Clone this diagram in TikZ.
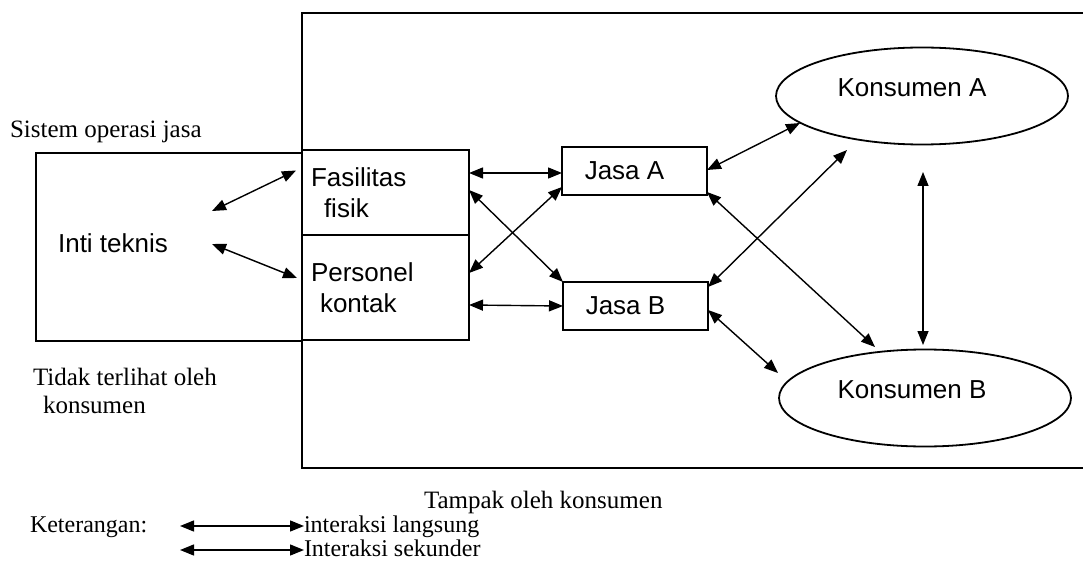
\documentclass[tikz,border=0pt]{standalone}
\usepackage{fontspec}
\setmainfont{Liberation Serif}
\setsansfont{Liberation Sans}
\usetikzlibrary{arrows.meta,calc,shapes.geometric}
\begin{document}
\begin{tikzpicture}[x=1pt,y=-1pt,
  every node/.style={inner sep=0pt, outer sep=0pt},
  ln/.style={line width=1.8pt},
  arr/.style={line width=1.4pt, {Triangle[length=14pt,width=11pt]}-{Triangle[length=14pt,width=11pt]}},
  sans/.style={font=\sffamily\fontsize{26}{31}\selectfont},
  serif/.style={font=\rmfamily\fontsize{25}{28}\selectfont},
  legf/.style={font=\rmfamily\fontsize{24}{26}\selectfont, anchor=base west},
  boxl/.style={draw, ln, sans, anchor=north west, inner xsep=9pt, text width=149pt, align=left, minimum width=167pt},
  jbox/.style={draw, ln, sans, anchor=north west, minimum width=145pt, minimum height=48pt},
  kons/.style={draw, ln, ellipse, minimum width=292pt, minimum height=97pt}
]
\useasboundingbox (0,0) rectangle (1083,577);

% frames
\draw[ln] (1084,13) -- (302,13) -- (302,468) -- (1084,468);
\node[draw, ln, anchor=north west, minimum width=266pt, minimum height=188pt] (sys) at (36,153) {};
\node[boxl, minimum height=85pt] (fas) at (302,150) {Fasilitas\\\hspace*{13pt}fisik};
\node[boxl, minimum height=105pt] (pers) at (302,235) {Personel\\\hspace*{9pt}kontak};

\node[sans] (inti) at (113,243) {Inti teknis};
\node[serif, anchor=base west] (sistem) at (10,138) {Sistem operasi jasa};
\node[serif, anchor=base west] (tid1) at (33,385) {Tidak terlihat oleh};
\node[serif, anchor=base west] (tid2) at (43,413) {konsumen};

\node[jbox] (ja) at (562,147) {Jasa A\hspace*{20pt}};
\node[jbox] (jb) at (563,282) {Jasa B\hspace*{20pt}};

\node[kons] (ka) at (922,96) {};
\node[sans] (kat) at ($(ka)+(-10,-8)$) {Konsumen A};
\node[kons] (kb) at (925,398) {};
\node[sans] (kbt) at ($(kb)+(-13,-8)$) {Konsumen B};

\coordinate (i1) at (212,211);
\coordinate (i2) at (212,244);

% connectors
\draw[arr] (i1) -- ([xshift=-6pt,yshift=22pt]fas.west);
\draw[arr] (i2) -- ([xshift=-5pt,yshift=9.5pt]pers.west);
\draw[arr] ([yshift=19.5pt]fas.east) -- ([yshift=-2pt]ja.west);
\draw[arr] ([yshift=2.5pt]fas.east) -- (jb.north west);
\draw[arr] ([yshift=14.5pt]pers.east) -- ([yshift=8pt]ja.south west);
\draw[arr] ([yshift=-17.5pt]pers.east) -- ([yshift=0pt]jb.west);
\draw[arr] ([yshift=1pt]ja.east) -- ($(ka)+(-122,27)$);
\draw[arr] ([yshift=-21pt]ja.east) -- ($(kb)+(-50,-51)$);
\draw[arr] ([yshift=-5pt]jb.north east) -- ($(ka)+(-75,54)$);
\draw[arr] ([yshift=-4pt]jb.east) -- ($(kb)+(-147,-25)$);
\draw[arr] ($(ka)+(1,76)$) -- ($(kb)+(-2,-53)$);

% legend
\node[serif, anchor=base west] (tampak) at (424,508) {Tampak oleh konsumen};
\node[legf] (ket) at (30,532) {Keterangan:};
\node[legf] (l1t) at (304,532) {interaksi langsung};
\node[legf] (l2t) at (304,556) {Interaksi sekunder};
\coordinate (l1a) at (180,526);
\coordinate (l2a) at (180,550);
\draw[arr] (l1a) -- ([yshift=6pt]l1t.base west);
\draw[arr] (l2a) -- ([yshift=6pt]l2t.base west);
\end{tikzpicture}
\end{document}
